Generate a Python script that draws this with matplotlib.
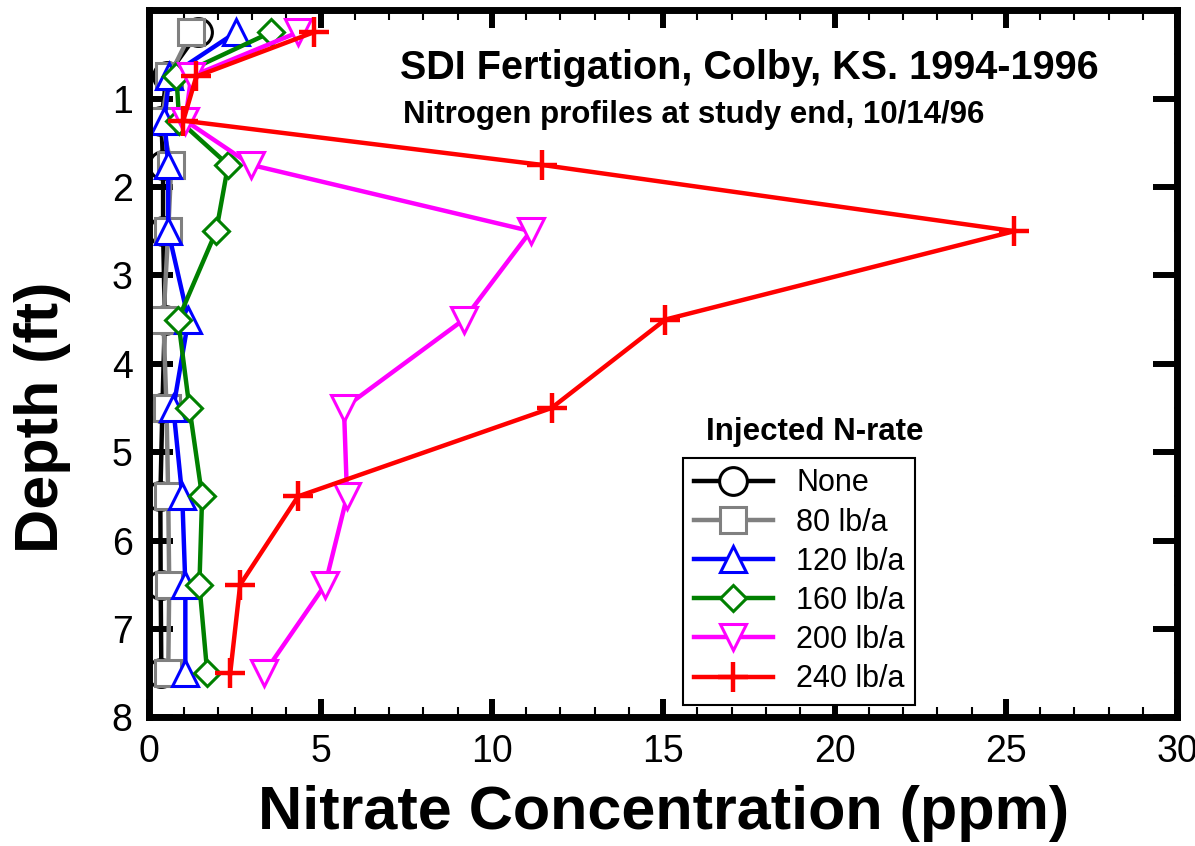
import matplotlib
matplotlib.use('Agg')
from matplotlib import pyplot as plt
from matplotlib.ticker import MultipleLocator

plt.rcParams['font.family'] = ['Liberation Sans', 'DejaVu Sans']

# depth of each sample (ft)
depths = [0.25, 0.75, 1.25, 1.75, 2.5, 3.5, 4.5, 5.5, 6.5, 7.5]

# nitrate (ppm) per injected N-rate
n_none = [1.43, 0.50, 0.35, 0.40, 0.40, 0.45, 0.38, 0.32, 0.33, 0.35]
n_80 = [1.22, 0.58, 0.35, 0.64, 0.55, 0.41, 0.50, 0.55, 0.58, 0.55]
n_120 = [2.53, 0.58, 0.44, 0.55, 0.55, 1.14, 0.70, 0.96, 1.05, 1.05]
n_160 = [3.55, 0.79, 0.87, 2.30, 1.95, 0.84, 1.17, 1.54, 1.46, 1.69]
n_200 = [4.34, 1.22, 1.05, 2.97, 11.13, 9.18, 5.68, 5.77, 5.13, 3.35]
n_240 = [4.80, 1.37, 0.99, 11.45, 25.25, 15.06, 11.74, 4.34, 2.65, 2.36]

labels = ['None', '80 lb/a', '120 lb/a', '160 lb/a', '200 lb/a', '240 lb/a']
series = [n_none, n_80, n_120, n_160, n_200, n_240]
colors = ['black', '#808080', '#0000ff', '#008000', '#ff00ff', '#ff0000']
markers = ['o', 's', '^', 'D', 'v', '+']
sizes = [20, 19, 19, 13.5, 19, 22]

fig = plt.figure(figsize=(11.95, 8.46), dpi=100)
ax = fig.add_axes([0.125, 0.152, 0.86, 0.836])

for vals, lab, c, m, s in zip(series, labels, colors, markers, sizes):
    mew = 3.2 if m == '+' else 2.2
    ax.plot(vals, depths, color=c, lw=3.2, marker=m, ms=s, mfc='white',
            mec=c, mew=mew, label=lab)

ax.set_xlim(0, 30)
ax.set_ylim(8, 0)
ax.set_xticks([0, 5, 10, 15, 20, 25, 30])
ax.set_yticks([1, 2, 3, 4, 5, 6, 7, 8])
ax.xaxis.set_minor_locator(MultipleLocator(1))
ax.yaxis.set_minor_locator(MultipleLocator(0.5))
ax.tick_params(axis='x', which='major', direction='in', top=True, bottom=True,
               length=13, width=4.3, labelsize=27, pad=12)
ax.tick_params(axis='x', which='minor', direction='in', top=True, bottom=True,
               length=7, width=1.5)
ax.tick_params(axis='y', which='major', direction='in', left=True, right=True,
               length=17, width=4.3, labelsize=27, pad=12)
ax.tick_params(axis='y', which='minor', direction='in', left=True, right=True,
               length=2.5, width=1.2)
for sp in ax.spines.values():
    sp.set_linewidth(5)

ax.set_xlabel('Nitrate Concentration (ppm)', fontsize=44, fontweight='bold', labelpad=11)
ax.set_ylabel('Depth (ft)', fontsize=44, fontweight='bold')
ax.yaxis.set_label_coords(-0.076, 0.425)

fig.text(749 / 1195, 1 - 68 / 846, 'SDI Fertigation, Colby, KS. 1994-1996',
         ha='center', va='center', fontsize=28.5, fontweight='bold')
fig.text(694 / 1195, 1 - 115 / 846, 'Nitrogen profiles at study end, 10/14/96',
         ha='center', va='center', fontsize=22.5, fontweight='bold')
fig.text(815 / 1195, 1 - 432 / 846, 'Injected N-rate',
         ha='center', va='center', fontsize=22.5, fontweight='bold')

leg = ax.legend(loc='lower left', bbox_to_anchor=(683 / 1195, 1 - 705 / 846),
                bbox_transform=fig.transFigure, borderaxespad=0, fontsize=22,
                fancybox=False, edgecolor='black', framealpha=1,
                handlelength=2.6, labelspacing=0.3, borderpad=0.35,
                handletextpad=0.75)
leg.get_frame().set_linewidth(1.5)

fig.savefig('out.png', dpi=100)
